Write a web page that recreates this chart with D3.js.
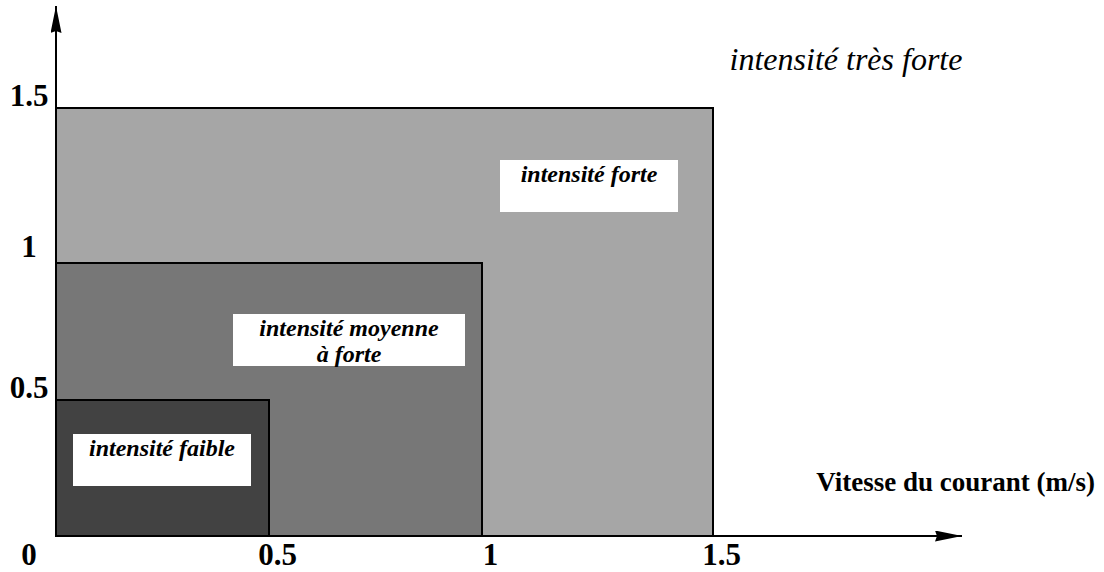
<!DOCTYPE html>
<html>
<head>
<meta charset="utf-8">
<style>
body { margin: 0; background: #fff; }
svg { display: block; font-family: 'Liberation Serif', 'Times New Roman', serif; }
.tick text { font-family: 'Liberation Serif', 'Times New Roman', serif; font-weight: bold; font-size: 31px; fill: #000; }
</style>
</head>
<body>
<svg width="1104" height="572"></svg>
<script src="https://d3js.org/d3.v7.min.js"></script>
<script>
// zones, from largest to smallest so the small ones sit on top
var zones = ["intensité forte", "intensité moyenne à forte", "intensité faible"];
var vitesseMax = [1.5, 1, 0.5];
var hauteurMax = [1.5, 1, 0.5];
var zoneColors = ["#a6a6a6", "#777777", "#424242"];
var tickValues = [0, 0.5, 1, 1.5];
var tickLabels = ["0", "0.5", "1", "1.5"];
var xTitle = "Vitesse du courant (m/s)";
var outsideLabel = "intensité très forte";

var svg = d3.select("svg");

// the original figure is not evenly spaced, so piecewise scales
var x = d3.scaleLinear().domain(tickValues).range([56, 269, 482, 713]);
var y = d3.scaleLinear().domain(tickValues).range([536, 400, 263, 108]);

var defs = svg.append("defs");
defs.append("marker")
    .attr("id", "arrow")
    .attr("viewBox", "0 0 27 11")
    .attr("refX", 27)
    .attr("refY", 5.5)
    .attr("markerWidth", 27)
    .attr("markerHeight", 11)
    .attr("markerUnits", "userSpaceOnUse")
    .attr("orient", "auto")
  .append("path")
    .attr("d", "M0,0L27,5.5L0,11L2,5.5Z")
    .attr("fill", "#000");

// zones
svg.append("g")
  .selectAll("rect")
  .data(zones)
  .join("rect")
    .attr("x", x(0))
    .attr("y", function(d, i) { return y(hauteurMax[i]); })
    .attr("width", function(d, i) { return x(vitesseMax[i]) - x(0); })
    .attr("height", function(d, i) { return y(0) - y(hauteurMax[i]); })
    .attr("fill", function(d, i) { return zoneColors[i]; })
    .attr("stroke", "#000")
    .attr("stroke-width", 2);

// axes lines with arrows
svg.append("line")
    .attr("x1", x(0)).attr("y1", y(0) + 1)
    .attr("x2", x(0)).attr("y2", 6)
    .attr("stroke", "#000").attr("stroke-width", 2)
    .attr("marker-end", "url(#arrow)");
svg.append("line")
    .attr("x1", x(0) - 1).attr("y1", y(0))
    .attr("x2", 962).attr("y2", y(0))
    .attr("stroke", "#000").attr("stroke-width", 2)
    .attr("marker-end", "url(#arrow)");

// tick labels
var xAxis = svg.append("g")
    .attr("transform", "translate(0," + y(0) + ")")
    .call(d3.axisBottom(x).tickValues(tickValues.slice(1)).tickSize(0)
      .tickFormat(function(d) { return tickLabels[tickValues.indexOf(d)]; }));
xAxis.select(".domain").remove();
xAxis.selectAll("text").attr("dy", null).attr("y", 29).attr("dx", 8);

var yAxis = svg.append("g")
    .attr("transform", "translate(29,0)")
    .call(d3.axisLeft(y).tickValues(tickValues.slice(1)).tickSize(0).tickPadding(0)
      .tickFormat(function(d) { return tickLabels[tickValues.indexOf(d)]; }));
yAxis.select(".domain").remove();
yAxis.selectAll("text").attr("text-anchor", "middle").attr("dy", "-3").attr("x", 0)
    .attr("y", function(d) { return d === 1 ? -4 : 0; });

svg.append("text")
    .attr("x", 29).attr("y", y(0) + 29)
    .attr("text-anchor", "middle")
    .attr("font-weight", "bold").attr("font-size", 31)
    .text(tickLabels[0]);

// axis title
svg.append("text")
    .attr("x", 1095).attr("y", 491)
    .attr("text-anchor", "end")
    .attr("font-weight", "bold").attr("font-size", 27)
    .text(xTitle);

svg.append("text")
    .attr("x", 846).attr("y", 70)
    .attr("text-anchor", "middle")
    .attr("font-style", "italic").attr("font-size", 32)
    .text(outsideLabel);

// white label boxes
var boxes = [
  {x: 500, y: 160, w: 178, h: 52, lines: ["intensité forte"]},
  {x: 233, y: 314, w: 232, h: 52, lines: ["intensité moyenne", "à forte"]},
  {x: 73, y: 434, w: 178, h: 52, lines: ["intensité faible"]}
];
var box = svg.append("g").selectAll("g").data(boxes).join("g");
box.append("rect")
    .attr("x", function(d) { return d.x; })
    .attr("y", function(d) { return d.y; })
    .attr("width", function(d) { return d.w; })
    .attr("height", function(d) { return d.h; })
    .attr("fill", "#fff");
box.each(function(d) {
  var g = d3.select(this);
  d.lines.forEach(function(l, i) {
    g.append("text")
      .attr("x", d.x + d.w / 2)
      .attr("y", d.y + 22 + i * 26)
      .attr("text-anchor", "middle")
      .attr("font-weight", "bold").attr("font-style", "italic")
      .attr("font-size", 24)
      .text(l);
  });
});
</script>
</body>
</html>
